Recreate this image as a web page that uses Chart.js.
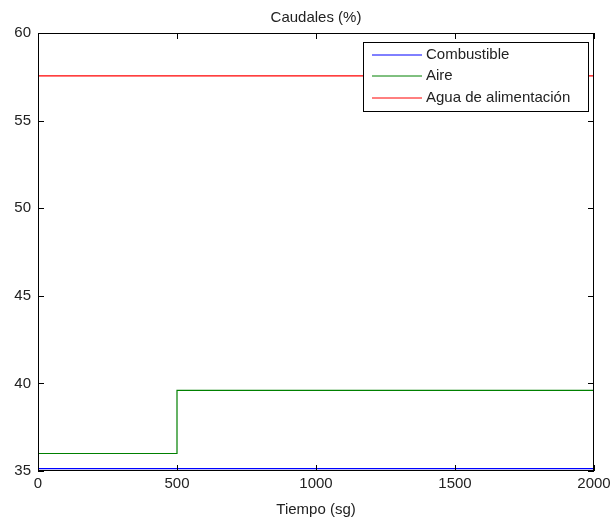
<!DOCTYPE html>
<html>
<head>
<meta charset="utf-8">
<title>Caudales (%)</title>
<script src="https://cdn.jsdelivr.net/npm/chart.js@4/dist/chart.umd.min.js"></script>
<style>
    body { margin: 0; background: #fff; }
    canvas { display: block; }
</style>
</head>
<body>
<canvas id="chart" width="611" height="525"></canvas>
<script>
// Data
const tiempo = [0, 500, 2000];
const combustible = [35.13, 35.13, 35.13];
const aire = [36, 39.6, 39.6];
const agua = [57.55, 57.55, 57.55];

const seriesLabels = ['Combustible', 'Aire', 'Agua de alimentación'];
const seriesColors = ['#0000ff', '#008000', '#ff0000'];
const seriesValues = [combustible, aire, agua];

const xTicks = [0, 500, 1000, 1500, 2000];
const yTicks = [35, 40, 45, 50, 55, 60];

const FONT = 'Liberation Sans, Arial, sans-serif';
const TEXT_COLOR = '#222';

/**
 * Axes box, inward tick marks on all four sides and the boxed legend
 */
const matlabFrame = {
    id: 'matlabFrame',
    afterDatasetsDraw(chart) {
        const { ctx, chartArea: a, scales } = chart;
        const len = 6;
        ctx.save();
        ctx.strokeStyle = '#000';
        ctx.lineWidth = 1;
        ctx.strokeRect(a.left + 0.5, a.top + 0.5, a.right - a.left - 1, a.bottom - a.top - 1);

        ctx.beginPath();
        scales.x.ticks.forEach(t => {
            const px = Math.round(scales.x.getPixelForValue(t.value)) + 0.5;
            ctx.moveTo(px, a.bottom);
            ctx.lineTo(px, a.bottom - len);
            ctx.moveTo(px, a.top);
            ctx.lineTo(px, a.top + len);
        });
        scales.y.ticks.forEach(t => {
            const py = Math.round(scales.y.getPixelForValue(t.value)) + 0.5;
            ctx.moveTo(a.left, py);
            ctx.lineTo(a.left + len, py);
            ctx.moveTo(a.right, py);
            ctx.lineTo(a.right - len, py);
        });
        ctx.stroke();

        // legend box in the upper right corner
        const bx = 363.5, by = 42.5, bw = 225, bh = 69;
        ctx.fillStyle = '#fff';
        ctx.fillRect(bx, by, bw, bh);
        ctx.strokeRect(bx, by, bw, bh);
        ctx.font = '15px ' + FONT;
        ctx.textBaseline = 'middle';
        ctx.textAlign = 'left';
        chart.data.datasets.forEach((ds, i) => {
            const y = Math.round(by + 12 + i * 21.7);
            ctx.beginPath();
            ctx.strokeStyle = ds.borderColor;
            ctx.moveTo(372, y);
            ctx.lineTo(422, y);
            ctx.stroke();
            ctx.fillStyle = TEXT_COLOR;
            ctx.fillText(ds.label, 426, y);
        });
        ctx.restore();
    }
};

new Chart(document.getElementById('chart'), {
    type: 'line',
    data: {
        datasets: seriesLabels.map((label, i) => ({
            label: label,
            data: tiempo.map((t, j) => ({ x: t, y: seriesValues[i][j] })),
            borderColor: seriesColors[i],
            backgroundColor: seriesColors[i],
            borderWidth: 1.2,
            pointRadius: 0,
            stepped: true,
            fill: false
        }))
    },
    options: {
        responsive: false,
        animation: false,
        devicePixelRatio: 1,
        layout: { padding: { left: 0, right: 17, top: 0, bottom: 0 } },
        plugins: {
            legend: { display: false },
            tooltip: { enabled: false },
            title: {
                display: true,
                fullSize: false,
                text: 'Caudales (%)',
                color: TEXT_COLOR,
                font: { family: FONT, size: 15, weight: 'normal' },
                padding: { top: 9, bottom: 6 }
            }
        },
        scales: {
            x: {
                type: 'linear',
                min: 0,
                max: 2000,
                afterBuildTicks(scale) { scale.ticks = xTicks.map(v => ({ value: v })); },
                afterFit(scale) {
                    scale.height = 54;
                    scale.paddingLeft = 0;
                    scale.paddingRight = 0;
                },
                grid: { display: false, drawTicks: false },
                border: { display: false },
                ticks: {
                    color: TEXT_COLOR,
                    font: { family: FONT, size: 15 },
                    padding: 4,
                    maxRotation: 0,
                    callback: v => String(v)
                },
                title: {
                    display: true,
                    text: 'Tiempo (sg)',
                    color: TEXT_COLOR,
                    font: { family: FONT, size: 15 },
                    padding: { top: 0, bottom: 6 }
                }
            },
            y: {
                type: 'linear',
                min: 35,
                max: 60,
                afterBuildTicks(scale) { scale.ticks = yTicks.map(v => ({ value: v })); },
                afterFit(scale) { scale.width = 38; },
                grid: { display: false, drawTicks: false },
                border: { display: false },
                ticks: {
                    color: TEXT_COLOR,
                    font: { family: FONT, size: 15 },
                    padding: 7,
                    callback: v => String(v)
                }
            }
        }
    },
    plugins: [matlabFrame]
});
</script>
</body>
</html>
